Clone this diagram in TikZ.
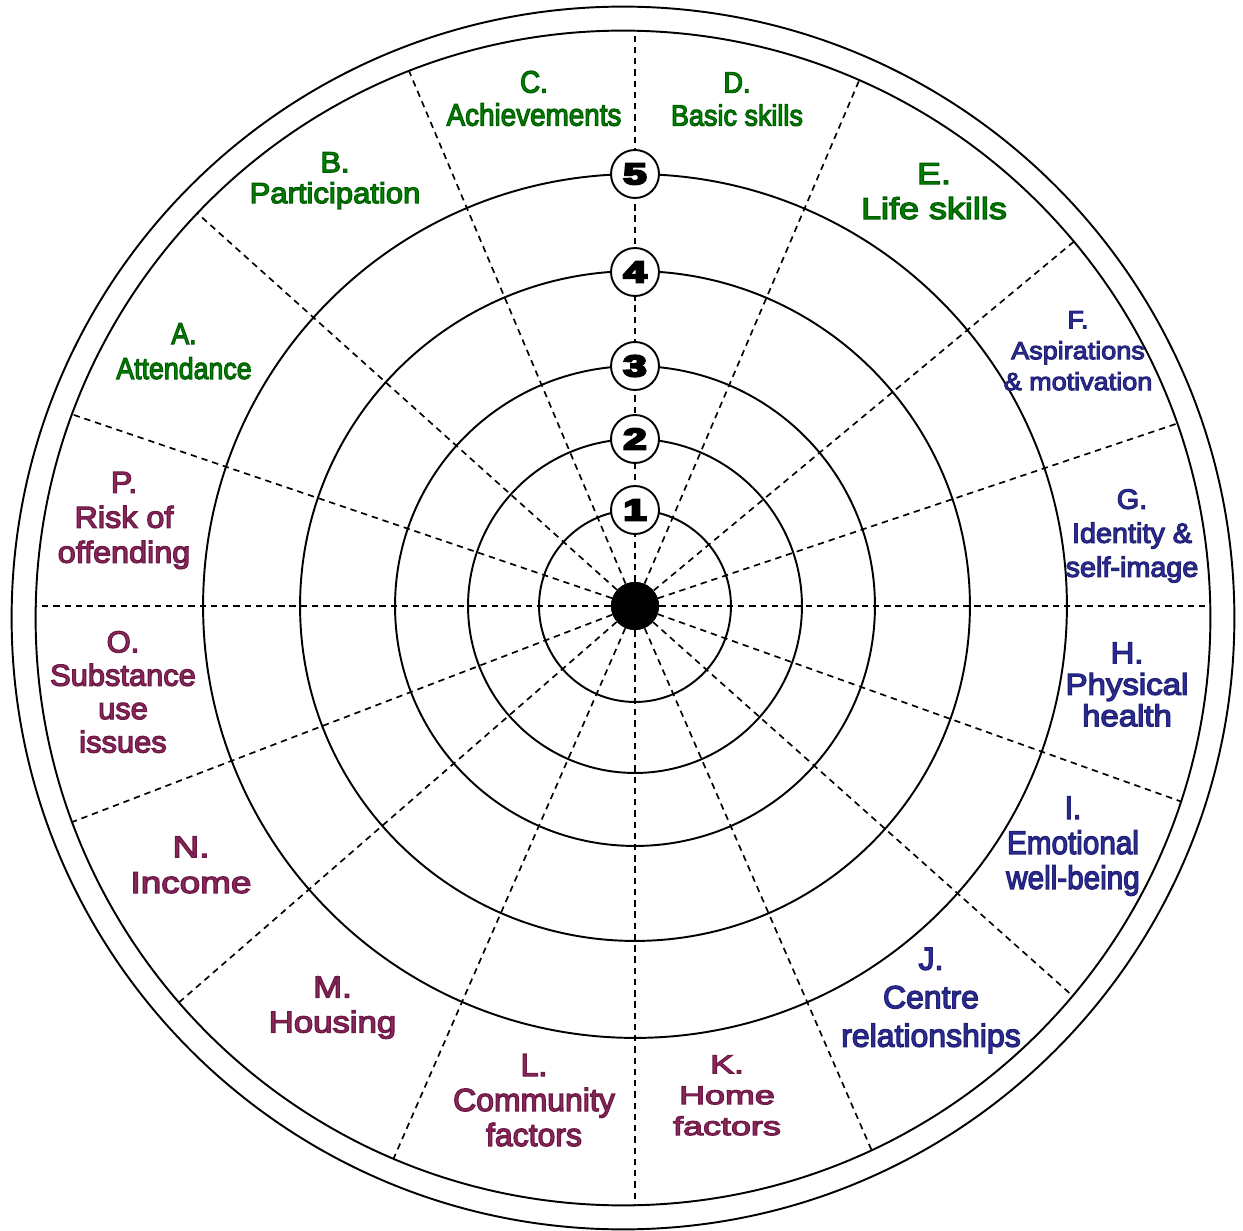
\documentclass[tikz,border=0pt]{standalone}
\usepackage{fontspec}
\usepackage{graphicx}
\setmainfont{Liberation Sans}
\newfontfamily\labfont[FakeBold=4]{Liberation Sans}
\newfontfamily\numfont[BoldFeatures={FakeBold=7}]{Liberation Sans}
\definecolor{lgreen}{RGB}{0,135,0}
\definecolor{lblue}{RGB}{45,45,160}
\definecolor{lmaroon}{RGB}{145,40,95}
% #1 colour, #2 size (pt), #3 line skip (pt), #4 xscale, #5 outline RG, #6 lines
\newcommand\seglab[6]{\scalebox{#4}[1]{\fontsize{#2}{#3}\labfont\color{#1}\special{pdf:literal direct #5 RG}\begin{tabular}{@{}c@{}}#6\end{tabular}}}
\newcommand\ringnum[1]{\scalebox{1.4}[1]{\fontsize{17}{17}\numfont\bfseries #1}}
\def\gO{0 0.36 0}
\def\bO{0.13 0.13 0.45}
\def\mO{0.42 0.1 0.27}
\begin{document}
\begin{tikzpicture}[x=0.02cm,y=0.02cm,
  ring/.style={line width=1.1pt},
  dline/.style={line width=0.95pt, dash pattern=on 3.6pt off 2.8pt},
  numc/.style={circle, draw, line width=1.1pt, fill=white, minimum size=0.96cm, inner sep=0pt},
  lbl/.style={inner sep=0pt}]
\fill[white] (-635,-624) rectangle (608,606);
\useasboundingbox (-635,-624) rectangle (608,606);
% outer rim
\draw[ring] (-12,-12) circle (11.75cm);
\draw[ring] (-12,-12) circle (12.23cm);
% centre
\node[circle, fill=black, minimum size=0.96cm, inner sep=0pt] (ctr) at (0,0) {};
% sector lines
\foreach \a in {0,18.6,39.7,66.9,90,112.9,138.1,161.2,180,201,221,246.4,270,293.5,318.3,340.3}{
  \pgfmathsetmacro\du{0.12*cos(\a)+0.12*sin(\a)}
  \pgfmathsetmacro\t{2*(-\du+sqrt(\du*\du+34.4868))}
  \draw[dline] (ctr) -- (\a:\t cm);
}
% rings
\foreach \r in {1.92,3.34,4.8,6.7,8.64}{
  \draw[ring] (0,0) circle (\r cm);
}
\node[circle, fill=black, minimum size=0.96cm, inner sep=0pt] at (ctr) {};
% ring numbers
\node[numc] (n1) at (0,96) {\ringnum{1}};
\node[numc] (n2) at (0,167) {\ringnum{2}};
\node[numc] (n3) at (0,240) {\ringnum{3}};
\node[numc] (n4) at (0,334) {\ringnum{4}};
\node[numc] (n5) at (0,432) {\ringnum{5}};
% segment labels
\node[lbl] (la) at (-451,251.5) {\seglab{lgreen}{17.1}{19.9}{0.89}{\gO}{A.\\Attendance}};
\node[lbl] (lb) at (-300,424.5) {\seglab{lgreen}{16.5}{17.6}{1.07}{\gO}{B.\\Participation}};
\node[lbl] (lc) at (-101,503.5) {\seglab{lgreen}{17.6}{18.8}{0.90}{\gO}{C.\\Achievements}};
\node[lbl] (ld) at (102,503.5) {\seglab{lgreen}{16.7}{18.8}{0.92}{\gO}{D.\\Basic skills}};
\node[lbl] (le) at (299,411.5) {\seglab{lgreen}{17.2}{19.9}{1.19}{\gO}{E.\\Life skills}};
\node[lbl] (lf) at (443,253) {\seglab{lblue}{14.1}{17.6}{1.09}{\bO}{F.\\Aspirations\\\& motivation}};
\node[lbl] (lg) at (497,70) {\seglab{lblue}{15.9}{19.35}{1.03}{\bO}{G.\\Identity \&\\self-image}};
\node[lbl] (lh) at (492,-82.5) {\seglab{lblue}{17.2}{17.9}{1.09}{\bO}{H.\\Physical\\health}};
\node[lbl] (li) at (438,-241) {\seglab{lblue}{18.55}{19.9}{0.91}{\bO}{I.\\Emotional\\well-being}};
\node[lbl] (lj) at (296,-394.5) {\seglab{lblue}{18.2}{21.9}{1.0}{\bO}{J.\\Centre\\relationships}};
\node[lbl] (lk) at (92,-492) {\seglab{lmaroon}{14.8}{17.6}{1.38}{\mO}{K.\\Home\\factors}};
\node[lbl] (ll) at (-101,-498) {\seglab{lmaroon}{18.2}{19.9}{1.0}{\mO}{L.\\Community\\factors}};
\node[lbl] (lm) at (-302.5,-402) {\seglab{lmaroon}{17.2}{19.9}{1.15}{\mO}{M.\\Housing}};
\node[lbl] (ln) at (-444,-262) {\seglab{lmaroon}{17.2}{20.3}{1.22}{\mO}{N.\\Income}};
\node[lbl] (lo) at (-512,-89.7) {\seglab{lmaroon}{17.2}{19.0}{1.02}{\mO}{O.\\Substance\\use\\issues}};
\node[lbl] (lp) at (-511,85.3) {\seglab{lmaroon}{17.2}{19.9}{1.07}{\mO}{P.\\Risk of\\offending}};
\end{tikzpicture}
\end{document}
